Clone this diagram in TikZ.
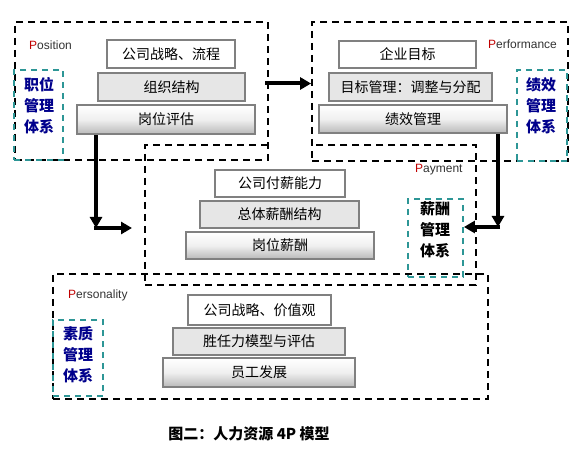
\documentclass[tikz,border=0pt]{standalone}
\usepackage{fontspec}
\setmainfont{Liberation Sans}
\newfontfamily\cjk{Noto Sans CJK SC}
\usetikzlibrary{arrows.meta}
\definecolor{tealdash}{RGB}{45,150,150}
\definecolor{navytext}{RGB}{0,0,140}
\definecolor{boxborder}{RGB}{128,128,128}
\definecolor{tiergray}{RGB}{230,230,230}
\definecolor{shadegray}{RGB}{185,185,185}
\definecolor{pred}{RGB}{192,0,0}
\tikzset{
  tierbase/.style={draw=boxborder, line width=2.5pt, inner sep=0pt,
    font=\cjk\fontsize{14}{16}\selectfont, text=black},
  tiertop/.style={tierbase, fill=white},
  tiermid/.style={tierbase, fill=tiergray},
  tierbot/.style={tierbase, top color=white, bottom color=shadegray, middle color=white!94!black},
  dashbox/.style={draw=black, line width=1.8pt, dash pattern=on 7pt off 5pt, inner sep=0pt},
  sysbox/.style={draw=tealdash, line width=1.8pt, dash pattern=on 6pt off 5pt, inner sep=0pt},
  systext/.style={font=\cjk\bfseries\fontsize{15}{21}\selectfont, align=center, text=navytext},
  tag/.style={anchor=west, inner sep=0pt, font=\fontsize{12}{14}\selectfont, text=black!80},
  flow/.style={line width=4pt, -{Triangle[length=11pt,width=12pt]}}
}
\begin{document}
\begin{tikzpicture}[x=1pt,y=-1pt]
\useasboundingbox[fill=white] (0,0) rectangle (584,449);

% outer dashed regions
\node[dashbox, minimum width=253pt, minimum height=138pt] (posb) at (141.5,91) {};
\node[dashbox, minimum width=256pt, minimum height=139pt] (perfb) at (440,91.5) {};
\node[inner sep=0pt, minimum width=331pt, minimum height=140pt] (payb) at (310.5,215) {};
\draw[dashbox] ([xshift=123pt]payb.north west) -- (payb.north west) -- (payb.south west)
  -- (payb.south east) -- (payb.north east) -- ([xshift=-164pt]payb.north east);
\node[dashbox, minimum width=435pt, minimum height=125pt] (persb) at (270.5,336.5) {};

% tags
\node[tag] (tpos) at (29,45) {\textcolor{pred}{P}osition};
\node[tag] (tperf) at (488,44) {\textcolor{pred}{P}erformance};
\node[tag] (tpay) at (415,170) {\textcolor{pred}{P}ayment};
\node[tag] (tpers) at (68,295) {\textcolor{pred}{P}ersonality};

% Position pyramid
\node[tiertop, minimum width=128pt, minimum height=28pt] (p1) at (171,54) {公司战略、流程};
\node[tiermid, minimum width=147pt, minimum height=28pt] (p2) at (171.5,87) {组织结构};
\node[tierbot, minimum width=178pt, minimum height=29pt] (p3) at (166,119.5) {岗位评估};

% Performance pyramid
\node[tiertop, minimum width=137pt, minimum height=27pt] (f1) at (407.5,54.5) {企业目标};
\node[tiermid, minimum width=163pt, minimum height=28pt] (f2) at (410.5,87) {目标管理：调整与分配};
\node[tierbot, minimum width=188pt, minimum height=28pt] (f3) at (413,119) {绩效管理};

% Payment pyramid
\node[tiertop, minimum width=130pt, minimum height=27pt] (y1) at (280,183.5) {公司付薪能力};
\node[tiermid, minimum width=159pt, minimum height=27pt] (y2) at (279.5,214.5) {总体薪酬结构};
\node[tierbot, minimum width=188pt, minimum height=27pt] (y3) at (280,245.5) {岗位薪酬};

% Personality pyramid
\node[tiertop, minimum width=143pt, minimum height=30pt] (s1) at (259.5,310) {公司战略、价值观};
\node[tiermid, minimum width=172pt, minimum height=27pt] (s2) at (259,341.5) {胜任力模型与评估};
\node[tierbot, minimum width=192pt, minimum height=29pt] (s3) at (259,372.5) {员工发展};

% system boxes
\node[sysbox, minimum width=49pt, minimum height=90pt] (possys) at (38.5,115) {};
\node[systext] (posst) at (39,106) {职位\\管理\\体系};
\node[sysbox, minimum width=50pt, minimum height=91pt] (perfsys) at (542,115.5) {};
\node[systext] (perfst) at (541,106) {绩效\\管理\\体系};
\node[sysbox, minimum width=55pt, minimum height=78pt] (paysys) at (435.5,238) {};
\node[systext, text=black] (payst) at (435,230) {薪酬\\管理\\体系};
\node[sysbox, minimum width=50pt, minimum height=76pt] (perssys) at (78,358) {};
\node[systext] (persst) at (78,355) {素质\\管理\\体系};

% arrows
\coordinate (a1) at (265,83.5);
\draw[flow] (a1) -- (a1 -| perfb.west);
\coordinate (lc) at (96,228);
\coordinate (le) at (132,228);
\draw[flow] (p3.south west -| lc) -- (lc);
\draw[flow] ([xshift=-2pt]lc) -- (le);
\coordinate (rc) at (498,227);
\draw[flow] (f3.south west -| rc) -- (rc);
\draw[flow] ([xshift=2pt]rc) -- (rc -| paysys.east);

% caption
\node[font=\cjk\bfseries\fontsize{15}{18}\selectfont] (cap) at (249,434) {图二：人力资源 4P 模型};
\end{tikzpicture}
\end{document}
